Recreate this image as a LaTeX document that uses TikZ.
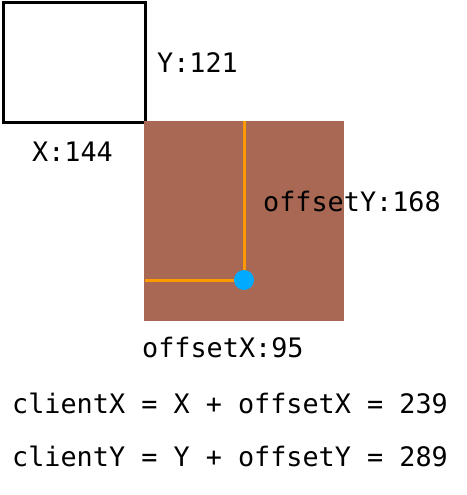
\documentclass[tikz,border=0pt]{standalone}
\usepackage{fontspec}
\newfontfamily\labelfont{DejaVu Sans Mono}
\usetikzlibrary{positioning}
\definecolor{boxbrown}{RGB}{168,104,84}
\definecolor{lineorange}{RGB}{255,153,0}
\definecolor{dotblue}{RGB}{0,170,255}

\begin{document}
\begin{tikzpicture}[
            x = 1pt,
            y = -1pt,
            txt/.style = {
                anchor = base west,
                inner sep = 0pt,
                font = \labelfont\fontsize{26.8}{30}\selectfont
            },
            guide/.style = {
                line width = 3pt,
                lineorange
            }
            ]
            \useasboundingbox (0,0) rectangle (466,495);
            \node[draw, line width = 3pt, anchor = north west, inner sep = 0pt,
                minimum width = 142pt, minimum height = 119.3pt] (screen) at (1.5,1.5) {};
            \node[fill = boxbrown, anchor = north west, inner sep = 0pt,
                minimum size = 200pt] (target) at (144,121) {};
            \draw[guide] (244,280) -- (244,280 |- target.north);
            \draw[guide] (244,280) -- (145,280);
            \node[circle, fill = dotblue, inner sep = 0pt, minimum size = 20pt] (click) at (244,280) {};

            \node[txt] (y) at (157,72) {Y:121};
            \node[txt] (x) at (32,161) {X:144};
            \node[txt] (oy) at (263,211) {offsetY:168};
            \node[txt] (ox) at (142,357) {offsetX:95};
            \node[txt] (cx) at (12,413) {clientX = X + offsetX = 239};
            \node[txt] (cy) at (12,466) {clientY = Y + offsetY = 289};
        \end{tikzpicture}
\end{document}
